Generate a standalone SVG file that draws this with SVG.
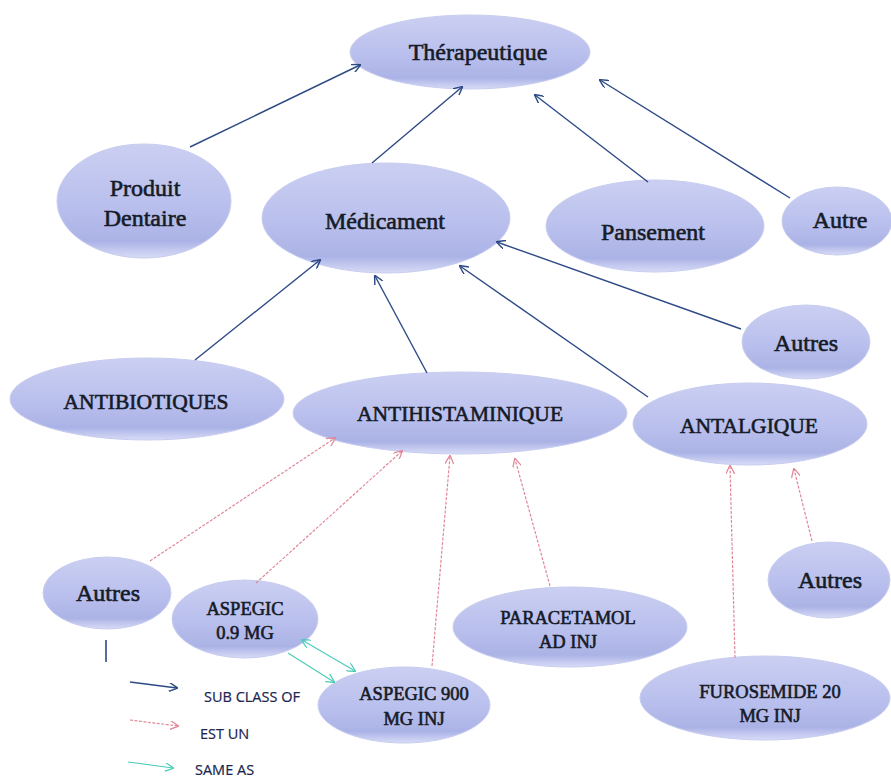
<svg xmlns="http://www.w3.org/2000/svg" width="891" height="778" viewBox="0 0 891 778">
  <defs>
    <linearGradient id="nodeFill" x1="0" y1="0" x2="0" y2="1">
      <stop offset="0" stop-color="#cbcff2"/>
      <stop offset="0.55" stop-color="#b9bfed"/>
      <stop offset="0.85" stop-color="#abb3e6"/>
      <stop offset="1" stop-color="#d8dcf7"/>
    </linearGradient>
    <marker id="arrBlue" viewBox="0 0 10 10" refX="9" refY="5" markerWidth="9" markerHeight="9" orient="auto-start-reverse" markerUnits="userSpaceOnUse">
      <path d="M0,0 L10,5 L0,10" fill="none" stroke="#2e4a86" stroke-width="1.6"/>
    </marker>
    <marker id="arrPink" viewBox="0 0 10 10" refX="9" refY="5" markerWidth="9" markerHeight="9" orient="auto-start-reverse" markerUnits="userSpaceOnUse">
      <path d="M0,0 L10,5 L0,10" fill="none" stroke="#e08898" stroke-width="1.4"/>
    </marker>
    <marker id="arrGreen" viewBox="0 0 10 10" refX="9" refY="5" markerWidth="9" markerHeight="9" orient="auto-start-reverse" markerUnits="userSpaceOnUse">
      <path d="M0,0 L10,5 L0,10" fill="none" stroke="#4ccdb8" stroke-width="1.4"/>
    </marker>
  </defs>
  <style>
    .node ellipse { fill: url(#nodeFill); stroke: #c8cdef; stroke-width: 1; }
    .node text { font-family: "Liberation Serif", "Times New Roman", serif; fill: #161b28; stroke: #161b28; stroke-width: 0.6; text-anchor: middle; }
    .lg { font-size: 24px; }
    .md { font-size: 21.5px; }
    .sm { font-size: 18.5px; }
    .sub { stroke: #2e4a86; stroke-width: 1.4; fill: none; marker-end: url(#arrBlue); }
    .est { stroke: #e08898; stroke-width: 1.2; fill: none; stroke-dasharray: 3 1.5; marker-end: url(#arrPink); }
    .same { stroke: #4ccdb8; stroke-width: 1.2; fill: none; marker-end: url(#arrGreen); }
    .legend text { font-family: "Open Sans", "Liberation Sans", sans-serif; font-size: 14.5px; fill: #1a2550; stroke: #1a2550; stroke-width: 0.2; }
  </style>
  <rect width="891" height="778" fill="#ffffff"/>

  <!-- nodes -->
  <g id="therapeutique" class="node">
    <ellipse cx="470" cy="52" rx="120" ry="37"/>
    <text x="478" y="60" style="font-size:24px">Thérapeutique</text>
  </g>
  <g id="produit-dentaire" class="node">
    <ellipse cx="144" cy="201" rx="87" ry="57"/>
    <text class="lg" x="145" y="196">Produit</text>
    <text class="lg" x="145" y="226">Dentaire</text>
  </g>
  <g id="medicament" class="node">
    <ellipse cx="386" cy="218" rx="124" ry="55"/>
    <text class="lg" x="385" y="229">Médicament</text>
  </g>
  <g id="pansement" class="node">
    <ellipse cx="655" cy="226" rx="109" ry="46"/>
    <text class="lg" x="653" y="240">Pansement</text>
  </g>
  <g id="autre" class="node">
    <ellipse cx="837" cy="221" rx="55" ry="34"/>
    <text class="lg" x="840" y="228">Autre</text>
  </g>
  <g id="autres-medicament" class="node">
    <ellipse cx="806" cy="342" rx="64" ry="37"/>
    <text class="lg" x="806" y="351">Autres</text>
  </g>
  <g id="antibiotiques" class="node">
    <ellipse cx="147" cy="399" rx="137" ry="41"/>
    <text class="md" x="146" y="409">ANTIBIOTIQUES</text>
  </g>
  <g id="antihistaminique" class="node">
    <ellipse cx="460" cy="413" rx="167" ry="41"/>
    <text class="md" x="460" y="421">ANTIHISTAMINIQUE</text>
  </g>
  <g id="antalgique" class="node">
    <ellipse cx="750" cy="424" rx="117" ry="41"/>
    <text class="md" x="749" y="433">ANTALGIQUE</text>
  </g>
  <g id="autres-antihistaminique" class="node">
    <ellipse cx="107" cy="593" rx="64" ry="36"/>
    <text class="lg" x="108" y="601">Autres</text>
  </g>
  <g id="aspegic-09" class="node">
    <ellipse cx="245" cy="619" rx="73" ry="39"/>
    <text class="sm" x="245" y="615">ASPEGIC</text>
    <text class="sm" x="245" y="639">0.9 MG</text>
  </g>
  <g id="paracetamol" class="node">
    <ellipse cx="570" cy="627" rx="117" ry="40"/>
    <text class="sm" x="568" y="624">PARACETAMOL</text>
    <text class="sm" x="568" y="648">AD INJ</text>
  </g>
  <g id="aspegic-900" class="node">
    <ellipse cx="404" cy="705" rx="86" ry="38"/>
    <text class="sm" x="414" y="700">ASPEGIC 900</text>
    <text class="sm" x="414" y="725">MG INJ</text>
  </g>
  <g id="furosemide" class="node">
    <ellipse cx="765" cy="698" rx="125" ry="42"/>
    <text class="sm" x="770" y="698">FUROSEMIDE 20</text>
    <text class="sm" x="770" y="722">MG INJ</text>
  </g>
  <g id="autres-antalgique" class="node">
    <ellipse cx="829" cy="580" rx="61" ry="38"/>
    <text class="lg" x="830" y="588">Autres</text>
  </g>

  <!-- connectors -->
  <g id="connectors">
    <line class="sub" x1="190" y1="147" x2="360" y2="65"/>
    <line class="sub" x1="372" y1="163" x2="462" y2="87"/>
    <line class="sub" x1="648" y1="182" x2="535" y2="95"/>
    <line class="sub" x1="790" y1="198" x2="600" y2="80"/>
    <line class="sub" x1="195" y1="360" x2="320" y2="260"/>
    <line class="sub" x1="427" y1="373" x2="375" y2="276"/>
    <line class="sub" x1="648" y1="397" x2="460" y2="266"/>
    <line class="sub" x1="741" y1="329" x2="497" y2="242"/>

    <line class="est" x1="150" y1="561" x2="335" y2="438"/>
    <line class="est" x1="256" y1="583" x2="402" y2="451"/>
    <line class="est" x1="432" y1="666" x2="450" y2="456"/>
    <line class="est" x1="550" y1="586" x2="515" y2="459"/>
    <line class="est" x1="735" y1="658" x2="730" y2="466"/>
    <line class="est" x1="812" y1="541" x2="794" y2="469"/>

    <line class="same" x1="302" y1="640" x2="355" y2="671" style="marker-start:url(#arrGreen)"/>
    <line class="same" x1="288" y1="653" x2="334" y2="682"/>
  </g>

  <!-- legend -->
  <g id="legend" class="legend">
    <line x1="106" y1="640" x2="106" y2="662" stroke="#2e4a86" stroke-width="1.6"/>
    <line class="sub" x1="130" y1="682" x2="177" y2="688"/>
    <text x="204" y="702">SUB CLASS OF</text>
    <line class="est" x1="130" y1="720" x2="178" y2="726"/>
    <text x="200" y="739">EST UN</text>
    <line class="same" x1="128" y1="762" x2="173" y2="768"/>
    <text x="195" y="775">SAME AS</text>
  </g>
</svg>
